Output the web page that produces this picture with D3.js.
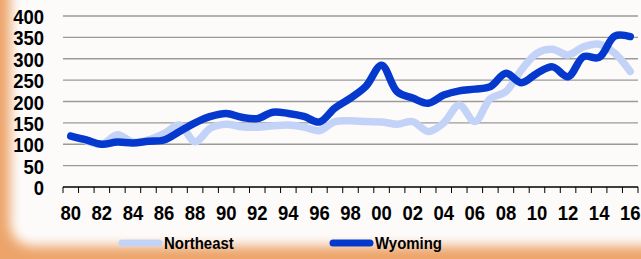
<!DOCTYPE html>
<html>
<head>
<meta charset="utf-8">
<script src="https://cdn.jsdelivr.net/npm/d3@7"></script>
<style>
  html, body { margin: 0; padding: 0; background: #fdfbf9; }
  svg { display: block; font-family: "Liberation Sans", Arial, sans-serif; }
</style>
</head>
<body>
<div id="chart"></div>
<script>
// Define data
let years = d3.range(1980, 2017);
let northeast = [120, 108, 100, 122, 105, 110, 125, 145, 106, 138,
  147, 141, 140, 143, 145, 140, 132, 153, 155, 153,
  152, 147, 153, 130, 150, 192, 153, 207, 223, 274,
  313, 322, 309, 328, 334, 313, 270];
let wyoming = [119, 110, 100, 105, 103, 107, 110, 130, 150, 165,
  172, 163, 160, 175, 172, 165, 152, 185, 208, 236,
  285, 223, 208, 196, 215, 225, 229, 235, 266, 244,
  266, 281, 258, 305, 303, 353, 352];
let y_ticks = [0, 50, 100, 150, 200, 250, 300, 350, 400];
let series_names = ["Northeast", "Wyoming"];

// Text in the original is a bit narrow, squeeze it horizontally
let squeeze = 0.88;

function BuildGraph(){
  let chart_width = 641;
  let chart_height = 259;
  let left = 63, right = 638, top = 16, bottom = 187;

  let svg = d3.select('#chart')
    .append('svg')
    .attr('width', chart_width)
    .attr('height', chart_height);

  // Orange glow frame
  let defs = svg.append('defs');
  defs.append('filter')
    .attr('id', 'blur')
    .attr('x', '-10%').attr('y', '-10%')
    .attr('width', '120%').attr('height', '120%')
    .append('feGaussianBlur')
    .attr('stdDeviation', 6);

  svg.append('rect')
    .attr('width', chart_width)
    .attr('height', chart_height)
    .attr('fill', '#eda46a');
  svg.append('rect')
    .attr('x', 10)
    .attr('y', -40)
    .attr('width', chart_width + 40)
    .attr('height', 286)
    .attr('rx', 22)
    .attr('fill', '#fdfbf9')
    .attr('filter', 'url(#blur)');

  // Scales
  let x_scale = d3.scaleBand()
    .domain(years)
    .range([left, right]);
  let y_scale = d3.scaleLinear()
    .domain([0, 400])
    .range([bottom, top]);

  // Grid lines
  svg.append('g')
    .selectAll('line')
    .data(y_ticks.filter((d) => d > 0))
    .enter()
    .append('line')
    .attr('x1', left)
    .attr('x2', right)
    .attr('y1', (d) => y_scale(d))
    .attr('y2', (d) => y_scale(d))
    .attr('stroke', '#9a9a9a')
    .attr('stroke-width', 1.3);

  // Y axis labels
  let y_axis = d3.axisLeft(y_scale)
    .tickValues(y_ticks)
    .tickSize(0)
    .tickPadding(19);
  let yg = svg.append('g')
    .attr('transform', 'translate(' + left + ',0)')
    .call(y_axis);
  yg.select('.domain').remove();
  yg.selectAll('text')
    .attr('x', -19 / squeeze)
    .attr('dy', '0.36em')
    .attr('transform', 'scale(' + squeeze + ',1)')
    .style('font-size', '21px')
    .style('font-weight', 'bold')
    .attr('fill', '#000');

  // X axis with ticks between categories
  let xg = svg.append('g')
    .attr('transform', 'translate(0,' + bottom + ')');
  xg.append('line')
    .attr('x1', left).attr('x2', right)
    .attr('stroke', '#000').attr('stroke-width', 1.3);
  xg.selectAll('line.tick')
    .data(years.concat([null]))
    .enter()
    .append('line')
    .attr('class', 'tick')
    .attr('x1', (d, i) => left + i * x_scale.step())
    .attr('x2', (d, i) => left + i * x_scale.step())
    .attr('y1', 0)
    .attr('y2', 6)
    .attr('stroke', '#000');
  xg.selectAll('text')
    .data(years.filter((d) => d % 2 == 0))
    .enter()
    .append('text')
    .attr('transform', (d) => 'translate(' + (x_scale(d) + x_scale.bandwidth() / 2) +
      ',33) scale(' + squeeze + ',1)')
    .attr('text-anchor', 'middle')
    .style('font-size', '21px')
    .style('font-weight', 'bold')
    .text((d) => String(d).slice(2));

  // Lines
  let line = d3.line()
    .x((d, i) => x_scale(years[i]) + x_scale.bandwidth() / 2)
    .y((d) => y_scale(d))
    .curve(d3.curveCatmullRom.alpha(0.5));

  svg.append('path')
    .attr('d', line(northeast))
    .attr('fill', 'none')
    .attr('stroke', '#c3d3f8')
    .attr('stroke-width', 7.5)
    .attr('stroke-linecap', 'round');
  svg.append('path')
    .attr('d', line(wyoming))
    .attr('fill', 'none')
    .attr('stroke', '#0538cc')
    .attr('stroke-width', 7.5)
    .attr('stroke-linecap', 'round');

  // Legend
  let legend = svg.append('g');
  let legend_items = [
    {name: series_names[0], color: '#c3d3f8', x: 122},
    {name: series_names[1], color: '#0538cc', x: 333}
  ];
  legend_items.forEach(function(item){
    legend.append('line')
      .attr('x1', item.x).attr('x2', item.x + 37)
      .attr('y1', 243).attr('y2', 243)
      .attr('stroke', item.color)
      .attr('stroke-width', 7)
      .attr('stroke-linecap', 'round');
    legend.append('text')
      .attr('transform', 'translate(' + (item.x + 42) + ',249) scale(' + squeeze + ',1)')
      .style('font-size', '17px')
      .style('font-weight', 'bold')
      .text(item.name);
  });
}

BuildGraph();
</script>
</body>
</html>
